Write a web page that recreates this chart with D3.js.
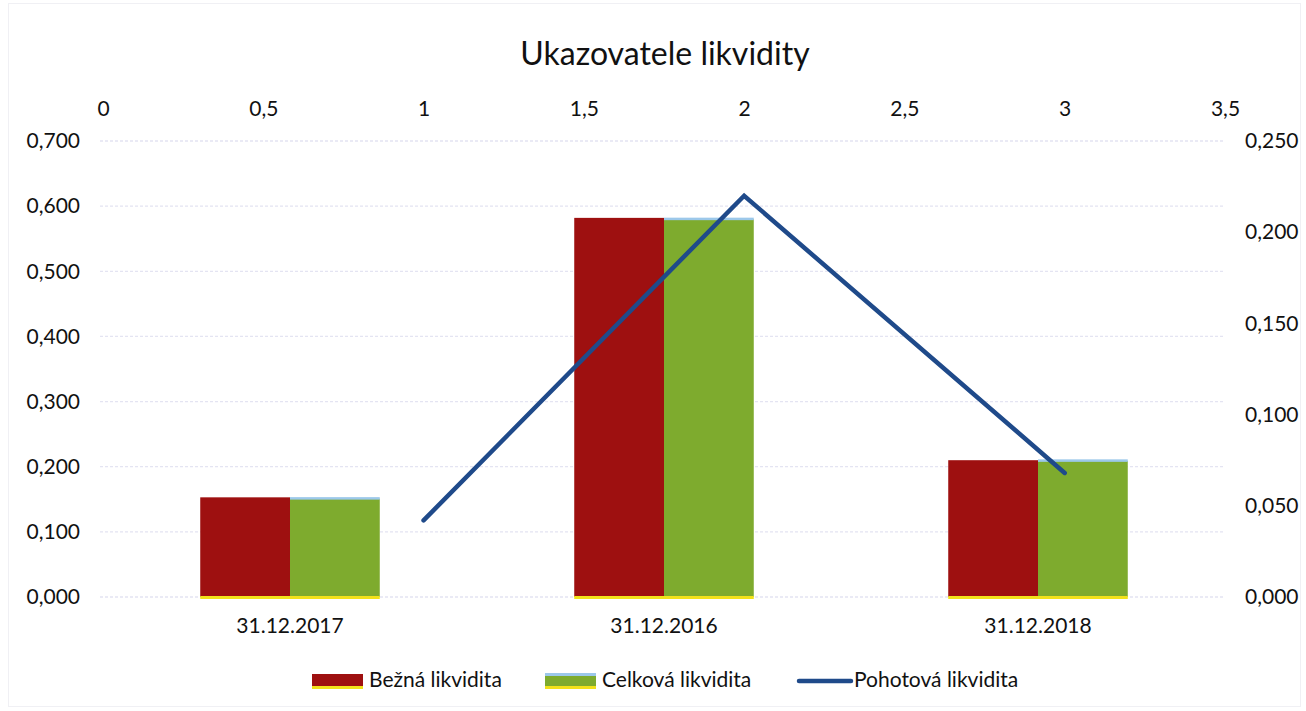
<!DOCTYPE html>
<html><head><meta charset="utf-8">
<script src="https://cdn.jsdelivr.net/npm/d3@7"></script>
<style>body{margin:0;background:#fff}svg{display:block}text{font-family:Lato,"Open Sans",sans-serif;fill:#111}</style>
</head><body>
<svg id="c" width="1306" height="711"></svg>
<script>
const categories = ["31.12.2017", "31.12.2016", "31.12.2018"];
const bezna = [0.153, 0.582, 0.210];
const celkova = [0.151, 0.580, 0.209];
const pohotovaX = [1, 2, 3];
const pohotova = [0.042, 0.220, 0.068];
const topTicks = [0, 0.5, 1, 1.5, 2, 2.5, 3, 3.5];
const leftTicks = [0, 0.1, 0.2, 0.3, 0.4, 0.5, 0.6, 0.7];
const rightTicks = [0, 0.05, 0.1, 0.15, 0.2, 0.25];
const seriesNames = ["Bežná likvidita", "Celková likvidita", "Pohotová likvidita"];
const title = "Ukazovatele likvidity";

const svg = d3.select("#c");
const L = 103, R = 1225, T = 141, B = 597;
const FS = 21;
const fmt = (d, n) => d.toFixed(n).replace(".", ",");
const fmtTop = d => String(d).replace(".", ",");

svg.append("rect").attr("x", 8.5).attr("y", 3.5).attr("width", 1292).attr("height", 703)
  .attr("fill", "#fff").attr("stroke", "#f0f0f4");

const yL = d3.scaleLinear().domain([0, 0.7]).range([B, T]);
const yR = d3.scaleLinear().domain([0, 0.25]).range([B, T]);
const xTop = d3.scaleLinear().domain([0, 3.5]).range([L, R]);
const xBand = d3.scaleBand().domain(categories).range([L, R]).paddingInner(0.52).paddingOuter(0.26);
const xSub = d3.scaleBand().domain([0, 1]).range([0, xBand.bandwidth()]);

// grid
svg.append("g").selectAll("line").data(leftTicks).join("line")
  .attr("x1", L - 3).attr("x2", R).attr("y1", d => yL(d)).attr("y2", d => yL(d))
  .attr("stroke", "#e4e4f2").attr("stroke-width", 1.3).attr("stroke-dasharray", "3,2");

svg.append("text").attr("x", 665).attr("y", 65).attr("text-anchor", "middle")
  .attr("font-size", 32).text(title);

// axes
const gL = svg.append("g").attr("transform", `translate(${L},0)`)
  .call(d3.axisLeft(yL).tickValues(leftTicks).tickFormat(d => fmt(d, 3)).tickSize(0).tickPadding(23));
const gR = svg.append("g").attr("transform", `translate(${R},0)`)
  .call(d3.axisRight(yR).tickValues(rightTicks).tickFormat(d => fmt(d, 3)).tickSize(0).tickPadding(20));
const gT = svg.append("g").attr("transform", `translate(0,${T})`)
  .call(d3.axisTop(xTop).tickValues(topTicks).tickFormat(fmtTop).tickSize(0).tickPadding(25));
const gB = svg.append("g").attr("transform", `translate(0,${B})`)
  .call(d3.axisBottom(xBand).tickSize(0).tickPadding(21));
[gL, gR, gT, gB].forEach(g => {
  g.select(".domain").remove();
  g.selectAll("text").attr("font-size", FS).attr("font-family", "Lato, 'Open Sans', sans-serif").attr("fill", "#111");
});

// bars
const colors = ["#9e1010", "#7eab2e"];
const series = [bezna, celkova];
series.forEach((vals, si) => {
  const g = svg.append("g");
  g.selectAll("rect.b").data(vals).join("rect")
    .attr("x", (d, i) => xBand(categories[i]) + xSub(si))
    .attr("width", xSub.bandwidth())
    .attr("y", d => yL(d)).attr("height", d => B - yL(d))
    .attr("fill", colors[si]);
  if (si === 1) {
    g.selectAll("rect.t").data(vals).join("rect")
      .attr("x", (d, i) => xBand(categories[i]) + xSub(si))
      .attr("width", xSub.bandwidth())
      .attr("y", d => yL(d) - 1.5).attr("height", 2.5).attr("fill", "#9cc8ea");
  }
  g.selectAll("rect.y").data(vals).join("rect")
    .attr("x", (d, i) => xBand(categories[i]) + xSub(si))
    .attr("width", xSub.bandwidth())
    .attr("y", B - 1).attr("height", 3).attr("fill", "#f2e21a");
});

// line
const line = d3.line().x((d, i) => xTop(pohotovaX[i])).y(d => yR(d));
svg.append("path").datum(pohotova).attr("d", line).attr("fill", "none")
  .attr("stroke", "#1f4a8a").attr("stroke-width", 4.5)
  .attr("stroke-linecap", "round").attr("stroke-linejoin", "miter");

// legend
const lg = svg.append("g");
const legY = 681;
const items = [
  {x: 312, type: "bar", color: colors[0], name: seriesNames[0], top: null},
  {x: 545, type: "bar", color: colors[1], name: seriesNames[1], top: "#9cc8ea"},
  {x: 797, type: "line", color: "#1f4a8a", name: seriesNames[2]}
];
items.forEach(it => {
  if (it.type === "bar") {
    lg.append("rect").attr("x", it.x).attr("y", legY - 7).attr("width", 51).attr("height", 13).attr("fill", it.color);
    if (it.top) lg.append("rect").attr("x", it.x).attr("y", legY - 8).attr("width", 51).attr("height", 3).attr("fill", it.top);
    lg.append("rect").attr("x", it.x).attr("y", legY + 5).attr("width", 51).attr("height", 3).attr("fill", "#f2e21a");
    lg.append("text").attr("x", it.x + 57).attr("y", 687).attr("font-size", FS).text(it.name);
  } else {
    lg.append("line").attr("x1", it.x + 2).attr("x2", it.x + 54).attr("y1", legY).attr("y2", legY)
      .attr("stroke", it.color).attr("stroke-width", 4.5).attr("stroke-linecap", "round");
    lg.append("text").attr("x", it.x + 57).attr("y", 687).attr("font-size", FS).text(it.name);
  }
});
</script>
</body></html>
